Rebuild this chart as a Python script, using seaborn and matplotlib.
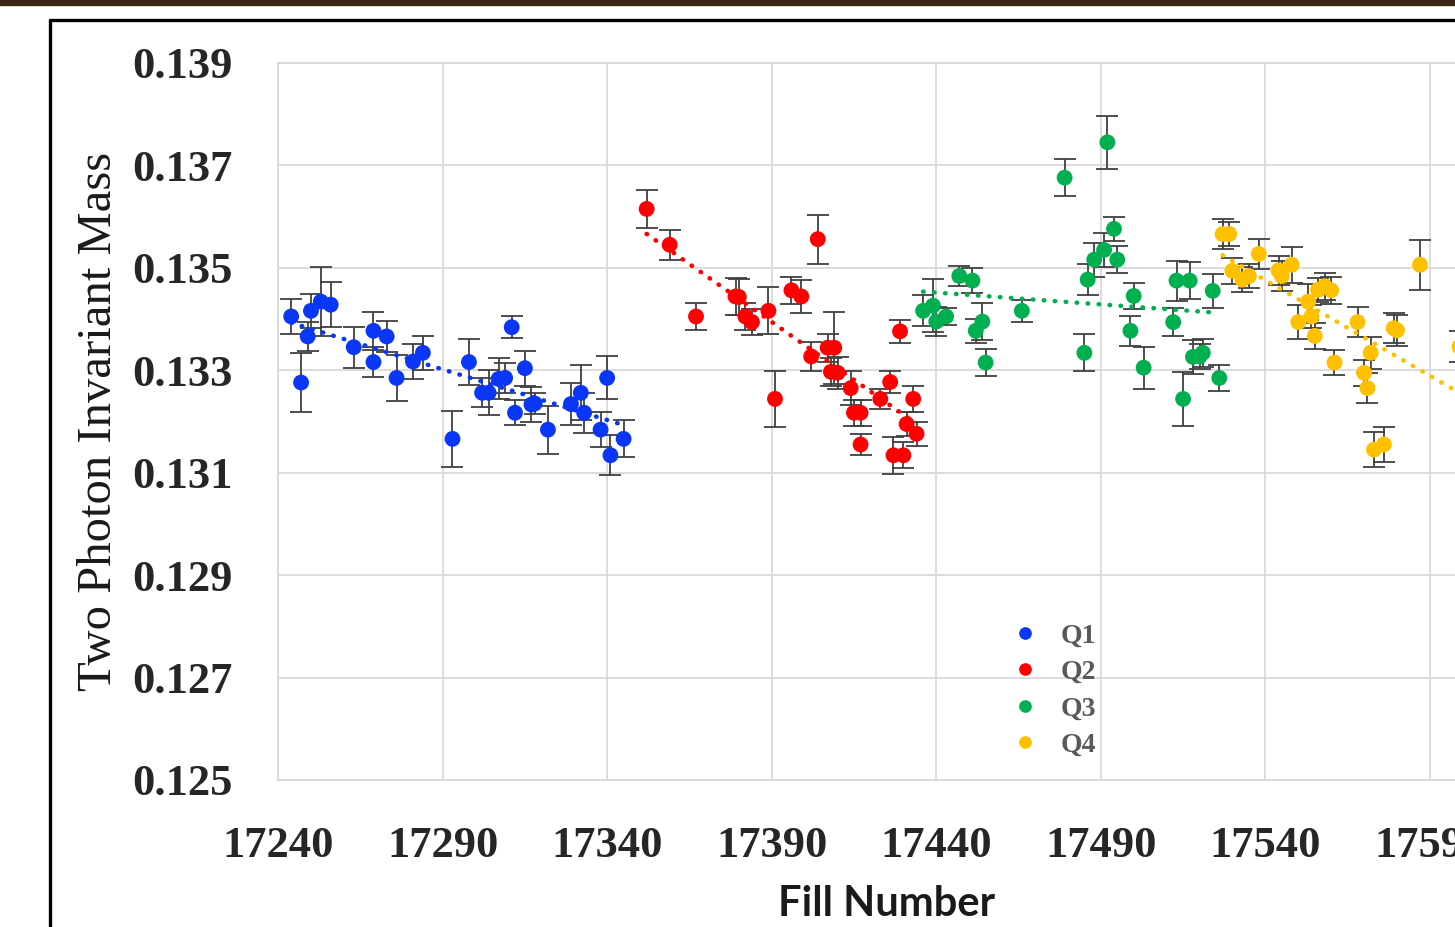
import numpy as np
import pandas as pd
import matplotlib
matplotlib.use("Agg")
import matplotlib.pyplot as plt
from matplotlib.lines import Line2D
from matplotlib.patches import Rectangle
import seaborn as sns

# series data
quarters = ["Q1", "Q2", "Q3", "Q4"]
colors = ["#0a37f5", "#ff0000", "#00b050", "#ffc000"]

q1_fill = [17244, 17247, 17249, 17250, 17253, 17256, 17263, 17269, 17269, 17273,
           17276, 17281, 17284, 17293, 17298, 17302, 17304, 17307, 17309, 17311,
           17312, 17315, 17317, 17318, 17322, 17329, 17332, 17333, 17338, 17340,
           17341, 17345]
q1_mass = [0.13405, 0.13276, 0.13366, 0.13416, 0.13434, 0.13428, 0.13345, 0.13377, 0.13316, 0.13366,
           0.13285, 0.13317, 0.13334, 0.13166, 0.13316, 0.13256, 0.13256, 0.13283, 0.13285, 0.13384,
           0.13217, 0.13304, 0.13233, 0.13235, 0.13184, 0.13234, 0.13256, 0.13217, 0.13184, 0.13285,
           0.13134, 0.13166]
q1_err = [0.00034, 0.00058, 0.00029, 0.00033, 0.00068, 0.00044, 0.00040, 0.00037, 0.00029, 0.00031,
          0.00045, 0.00034, 0.00033, 0.00054, 0.00045, 0.00028, 0.00044, 0.00040, 0.00030, 0.00021,
          0.00024, 0.00034, 0.00035, 0.00021, 0.00047, 0.00041, 0.00054, 0.00039, 0.00034, 0.00042,
          0.00039, 0.00036]

q2_fill = [17352, 17359, 17367, 17379, 17380, 17382, 17384, 17389, 17391, 17396,
           17399, 17404, 17402, 17407, 17409, 17408, 17410, 17414, 17415, 17417,
           17417, 17423, 17426, 17429, 17427, 17430, 17431, 17433, 17434]
q2_mass = [0.13615, 0.13545, 0.13405, 0.13444, 0.13443, 0.13405, 0.13394, 0.13416, 0.13244, 0.13456,
           0.13444, 0.13556, 0.13327, 0.13344, 0.13344, 0.13297, 0.13295, 0.13265, 0.13217, 0.13217,
           0.13155, 0.13244, 0.13277, 0.13376, 0.13134, 0.13134, 0.13195, 0.13244, 0.13176]
q2_err = [0.00037, 0.00029, 0.00026, 0.00037, 0.00035, 0.00027, 0.00026, 0.00046, 0.00054, 0.00027,
          0.00033, 0.00048, 0.00028, 0.00027, 0.00070, 0.00027, 0.00031, 0.00033, 0.00025, 0.00025,
          0.00021, 0.00020, 0.00021, 0.00022, 0.00036, 0.00025, 0.00023, 0.00025, 0.00023]

q3_fill = [17436, 17439, 17440, 17443, 17447, 17451, 17452, 17454, 17455, 17466,
           17479, 17485, 17486, 17488, 17491, 17492, 17494, 17495, 17500, 17499,
           17503, 17512, 17513, 17515, 17517, 17518, 17520, 17521, 17524, 17526]
q3_mass = [0.13416, 0.13426, 0.13395, 0.13405, 0.13484, 0.13475, 0.13377, 0.13395, 0.13315, 0.13416,
           0.13676, 0.13334, 0.13477, 0.13516, 0.13535, 0.13745, 0.13576, 0.13516, 0.13445, 0.13377,
           0.13305, 0.13394, 0.13475, 0.13244, 0.13475, 0.13326, 0.13327, 0.13334, 0.13455, 0.13285]
q3_err = [0.00030, 0.00052, 0.00029, 0.00016, 0.00020, 0.00025, 0.00023, 0.00036, 0.00027, 0.00022,
          0.00036, 0.00036, 0.00030, 0.00033, 0.00033, 0.00052, 0.00024, 0.00026, 0.00026, 0.00029,
          0.00041, 0.00027, 0.00039, 0.00053, 0.00036, 0.00033, 0.00024, 0.00027, 0.00033, 0.00025]

q4_fill = [17527, 17529, 17530, 17533, 17535, 17538, 17544, 17545, 17548, 17550,
           17553, 17554, 17555, 17556, 17558, 17560, 17561, 17568, 17570, 17571,
           17572, 17573, 17576, 17579, 17580, 17587, 17599]
q4_mass = [0.13566, 0.13566, 0.13494, 0.13477, 0.13484, 0.13527, 0.13495, 0.13484, 0.13506, 0.13394,
           0.13434, 0.13405, 0.13367, 0.13457, 0.13464, 0.13456, 0.13315, 0.13394, 0.13295, 0.13265,
           0.13334, 0.13145, 0.13155, 0.13382, 0.13378, 0.13506, 0.13346]
q4_err = [0.00030, 0.00023, 0.00025, 0.00024, 0.00024, 0.00029, 0.00028, 0.00029, 0.00035, 0.00033,
          0.00035, 0.00023, 0.00025, 0.00023, 0.00026, 0.00027, 0.00024, 0.00029, 0.00025, 0.00029,
          0.00031, 0.00034, 0.00034, 0.00029, 0.00030, 0.00049, 0.00030]

x_ticks = [17240, 17290, 17340, 17390, 17440, 17490, 17540, 17590]
y_ticks = [0.125, 0.127, 0.129, 0.131, 0.133, 0.135, 0.137, 0.139]

# build one long table
frames = []
for q, f, m, e in zip(quarters,
                      [q1_fill, q2_fill, q3_fill, q4_fill],
                      [q1_mass, q2_mass, q3_mass, q4_mass],
                      [q1_err, q2_err, q3_err, q4_err]):
    frames.append(pd.DataFrame({"fill": f, "mass": m, "err": e, "quarter": q}))
df = pd.concat(frames, ignore_index=True)

sns.set_style("white")
plt.rcParams["font.family"] = ["Liberation Serif", "DejaVu Serif"]

fig = plt.figure(figsize=(14.55, 9.27), dpi=100)
# axes run past the right edge of the picture, like the cropped original
ax = fig.add_axes([0.1911, 0.1586, 0.8369, 0.7735])

grid_color = "#d9d9d9"

# error bars
for q, c in zip(quarters, colors):
    sub = df[df["quarter"] == q]
    ax.errorbar(sub["fill"], sub["mass"], yerr=sub["err"], fmt="none",
                ecolor="#404040", elinewidth=1.3, capsize=8, capthick=1.3, zorder=2)

# points
sns.scatterplot(data=df, x="fill", y="mass", hue="quarter", palette=colors,
                s=130, linewidth=0, ax=ax, zorder=3)

# linear trend for each quarter
for q, c in zip(quarters, colors):
    sub = df[df["quarter"] == q]
    sns.regplot(data=sub, x="fill", y="mass", scatter=False, ci=None, color=c,
                truncate=True, ax=ax,
                line_kws={"linestyle": (0, (0.1, 2.3)), "linewidth": 3.3,
                          "dash_capstyle": "round", "zorder": 4})

ax.set_xlim(17240, 17610)
ax.set_ylim(0.125, 0.139)
ax.set_xticks(x_ticks)
ax.set_yticks(y_ticks)
ax.set_xticklabels([str(t) for t in x_ticks])
ax.set_yticklabels(["%.3f" % t for t in y_ticks])
ax.tick_params(length=0, labelsize=32, pad=33)
for lab in ax.get_xticklabels() + ax.get_yticklabels():
    lab.set_fontweight("bold")

ax.grid(True, color=grid_color, linewidth=1.3)
for side in ["left", "bottom", "top"]:
    ax.spines[side].set_color(grid_color)
    ax.spines[side].set_linewidth(1.3)
ax.spines["right"].set_visible(False)

ax.set_ylabel("Two Photon Invariant Mass", fontsize=35, color="#1a1a1a")
ax.yaxis.set_label_coords(-0.129, 0.5)
ax.set_xlabel("Fill Number", fontsize=30, fontweight="bold", family="Lato", color="#1a1a1a")
ax.xaxis.set_label_coords(0.5, -0.146)

handles, labels = ax.get_legend_handles_labels()
leg = ax.legend(handles[:4], labels[:4], loc="upper left", bbox_to_anchor=(0.570, 0.254),
                frameon=False, fontsize=20, markerscale=0.8, labelspacing=0.4,
                handletextpad=0.3)
for t in leg.get_texts():
    t.set_color("#595959")
    t.set_fontweight("bold")

# outer frame and dark band at the top
fig.add_artist(Rectangle((0, 1 - 5 / 927), 1, 5 / 927, transform=fig.transFigure,
                         color="#3c2415", zorder=10))
fig.add_artist(Line2D([50 / 1455, 50 / 1455], [0, 1 - 20 / 927], transform=fig.transFigure,
                      color="black", linewidth=2.4))
fig.add_artist(Line2D([50 / 1455, 1], [1 - 20 / 927, 1 - 20 / 927], transform=fig.transFigure,
                      color="black", linewidth=2.4))

fig.savefig("out.png", dpi=100)
plt.close()
